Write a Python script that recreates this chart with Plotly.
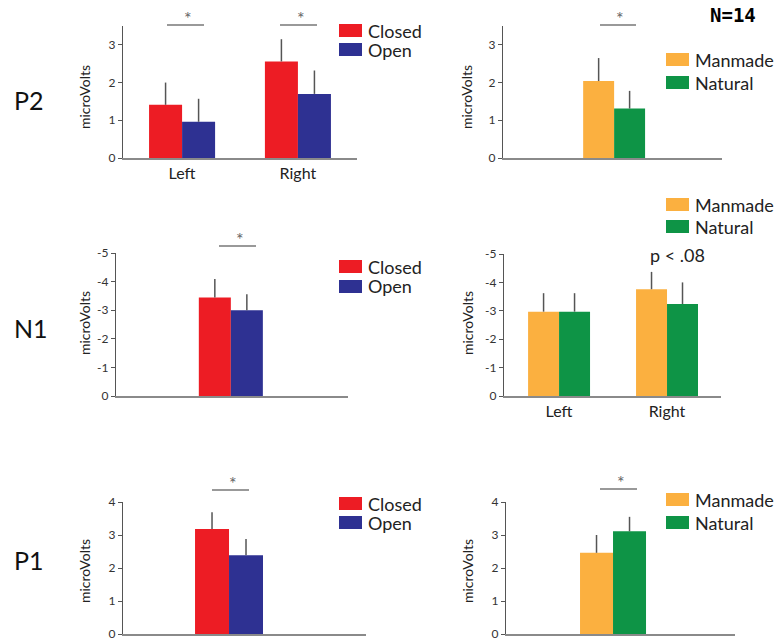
import plotly.graph_objects as go

W, H = 782, 638
OFF = 8  # page body margin shift of the rendered figure

# ---------------- data ----------------
lr_cats = ["Left", "Right"]
single_cat = ["all"]

p2_closed = [1.41, 2.56]
p2_closed_err = [0.59, 0.59]
p2_open = [0.96, 1.70]
p2_open_err = [0.61, 0.62]

p2_manmade = [2.04]
p2_manmade_err = [0.61]
p2_natural = [1.31]
p2_natural_err = [0.47]

n1_closed = [-3.44]
n1_closed_err = [0.65]
n1_open = [-3.00]
n1_open_err = [0.56]

n1_manmade = [-2.97, -3.76]
n1_manmade_err = [0.65, 0.61]
n1_natural = [-2.97, -3.24]
n1_natural_err = [0.65, 0.76]

p1_closed = [3.18]
p1_closed_err = [0.51]
p1_open = [2.39]
p1_open_err = [0.49]

p1_manmade = [2.46]
p1_manmade_err = [0.54]
p1_natural = [3.11]
p1_natural_err = [0.44]

p2_ticks = [0, 1, 2, 3]
n1_ticks = [0, -1, -2, -3, -4, -5]
n1_tick_text = ["0", "-1", "-2", "-3", "-4", "-5"]
p1_ticks = [0, 1, 2, 3, 4]

row_labels = ["P2", "N1", "P1"]
legend_scene = ["Closed", "Open"]
legend_content = ["Manmade", "Natural"]

# ---------------- style ----------------
RED = "#ED1C24"
BLUE = "#2E3192"
ORANGE = "#FBB040"
GREEN = "#0E9446"
ERR = "#555555"
FONT = "Lato"


def px(x):
    return (x - OFF) / W


def py(y):
    return 1 - (y - OFF) / H


fig = go.Figure()

panels = [
    dict(x=(123, 357), y=(26, 158), xr=[-0.51, 1.51], yr=[0, 3.5], w=0.285, cats=True, tv=p2_ticks),
    dict(x=(503, 722), y=(26, 158), xr=[-1.03, 1.0], yr=[0, 3.5], w=0.287, cats=False, tv=p2_ticks),
    dict(x=(116, 348), y=(253, 396), xr=[-0.99, 1.01], yr=[0, -5], w=0.276, cats=False, tv=n1_ticks),
    dict(x=(504, 721), y=(254, 396), xr=[-0.51, 1.5], yr=[0, -5], w=0.287, cats=True, tv=n1_ticks),
    dict(x=(123, 366), y=(502, 634), xr=[-0.914, 1.181], yr=[0, 4], w=0.293, cats=False, tv=p1_ticks),
    dict(x=(506, 735), y=(502, 634), xr=[-0.973, 1.109], yr=[0, 4], w=0.30, cats=False, tv=p1_ticks),
]

series = [
    (lr_cats, p2_closed, p2_closed_err, p2_open, p2_open_err, RED, BLUE, legend_scene),
    (single_cat, p2_manmade, p2_manmade_err, p2_natural, p2_natural_err, ORANGE, GREEN, legend_content),
    (single_cat, n1_closed, n1_closed_err, n1_open, n1_open_err, RED, BLUE, legend_scene),
    (lr_cats, n1_manmade, n1_manmade_err, n1_natural, n1_natural_err, ORANGE, GREEN, legend_content),
    (single_cat, p1_closed, p1_closed_err, p1_open, p1_open_err, RED, BLUE, legend_scene),
    (single_cat, p1_manmade, p1_manmade_err, p1_natural, p1_natural_err, ORANGE, GREEN, legend_content),
]

for i, (p, s) in enumerate(zip(panels, series)):
    k = "" if i == 0 else str(i + 1)
    cats, v1, e1, v2, e2, c1, c2, names = s
    neg = p["yr"][1] < 0
    for j, (vals, errs, col, off) in enumerate([(v1, e1, c1, -p["w"]), (v2, e2, c2, 0)]):
        if neg:
            err = dict(type="data", symmetric=False, array=[0] * len(errs), arrayminus=errs,
                       width=0, thickness=1.5, color=ERR)
        else:
            err = dict(type="data", symmetric=False, array=errs, arrayminus=[0] * len(errs),
                       width=0, thickness=1.5, color=ERR)
        fig.add_trace(go.Bar(
            x=cats, y=vals, width=p["w"], offset=off,
            marker=dict(color=col, line=dict(width=0)),
            error_y=err, name=names[j], showlegend=False,
            xaxis="x" + k, yaxis="y" + k,
        ))
    fig.layout["xaxis" + k] = dict(
        domain=[px(p["x"][0]), px(p["x"][1])], anchor="y" + k, type="category",
        range=p["xr"], showline=True, linecolor="#8a8a8a", linewidth=1.5,
        showgrid=False, zeroline=False, ticks="", automargin=False,
        showticklabels=p["cats"], tickfont=dict(family=FONT, size=16, color="#222"),
        fixedrange=True,
    )
    ttext = n1_tick_text if neg else [str(t) for t in p["tv"]]
    fig.layout["yaxis" + k] = dict(
        domain=[py(p["y"][1]), py(p["y"][0])], anchor="x" + k,
        range=p["yr"], tickmode="array", tickvals=p["tv"], ticktext=ttext,
        showline=True, linecolor="#555", linewidth=1.2,
        ticks="outside", ticklen=4, tickcolor="#555", tickwidth=1,
        showgrid=False, zeroline=False, automargin=False,
        tickfont=dict(family=FONT, size=12, color="#333"),
        fixedrange=True,
    )

sig = [
    (167, 204, 25), (280, 317, 25),
    (600, 636, 25),
    (219, 256, 246),
    (212, 249, 490),
    (600, 637, 489),
]
shapes = []
annos = []
for x0, x1, y in sig:
    shapes.append(dict(type="line", xref="paper", yref="paper",
                       x0=px(x0), x1=px(x1), y0=py(y), y1=py(y),
                       line=dict(color="#777", width=1.5)))
    annos.append(dict(text="*", xref="paper", yref="paper",
                      x=px((x0 + x1) / 2 + 2), y=py(y - 7), showarrow=False,
                      font=dict(family=FONT, size=18, color="#666"),
                      xanchor="center", yanchor="middle"))

legends = [
    (339, 24, 43, RED, BLUE, legend_scene),
    (666, 53, 76, ORANGE, GREEN, legend_content),
    (339, 260, 280, RED, BLUE, legend_scene),
    (666, 198, 220, ORANGE, GREEN, legend_content),
    (339, 497, 516, RED, BLUE, legend_scene),
    (666, 493, 516, ORANGE, GREEN, legend_content),
]
for lx, t1, t2, ca, cb, names in legends:
    for top, col, nm in [(t1, ca, names[0]), (t2, cb, names[1])]:
        shapes.append(dict(type="rect", xref="paper", yref="paper",
                           x0=px(lx), x1=px(lx + 23), y0=py(top + 13), y1=py(top),
                           fillcolor=col, line=dict(width=0)))
        annos.append(dict(text=nm, xref="paper", yref="paper",
                          x=px(lx + 27), y=py(top + 6.5), showarrow=False,
                          xanchor="left", yanchor="middle",
                          font=dict(family=FONT, size=18, color="#222")))

for xx, yy in [(84, 97), (466, 97), (84, 323), (467, 323), (84, 571), (467, 571)]:
    annos.append(dict(text="microVolts", xref="paper", yref="paper", x=px(xx), y=py(yy),
                      textangle=-90, showarrow=False, xanchor="center", yanchor="middle",
                      font=dict(family=FONT, size=14, color="#222")))

for lab, yy in zip(row_labels, [100, 328, 560]):
    annos.append(dict(text=lab, xref="paper", yref="paper", x=px(12), y=py(yy),
                      showarrow=False, xanchor="left", yanchor="middle",
                      font=dict(family=FONT, size=25, color="#111")))

annos.append(dict(text="p < .08", xref="paper", yref="paper", x=px(677), y=py(255),
                  showarrow=False, xanchor="center", yanchor="middle",
                  font=dict(family=FONT, size=18, color="#222")))

annos.append(dict(text="<b>N=14</b>", xref="paper", yref="paper", x=px(733), y=py(15),
                  showarrow=False, xanchor="center", yanchor="middle",
                  font=dict(family="DejaVu Sans Mono", size=19, color="#000")))

fig.update_layout(
    width=W, height=H, margin=dict(l=0, r=0, t=0, b=0, autoexpand=False),
    paper_bgcolor="white", plot_bgcolor="white",
    barmode="overlay", showlegend=False,
    shapes=shapes, annotations=annos,
)

fig.write_html("out.html")
